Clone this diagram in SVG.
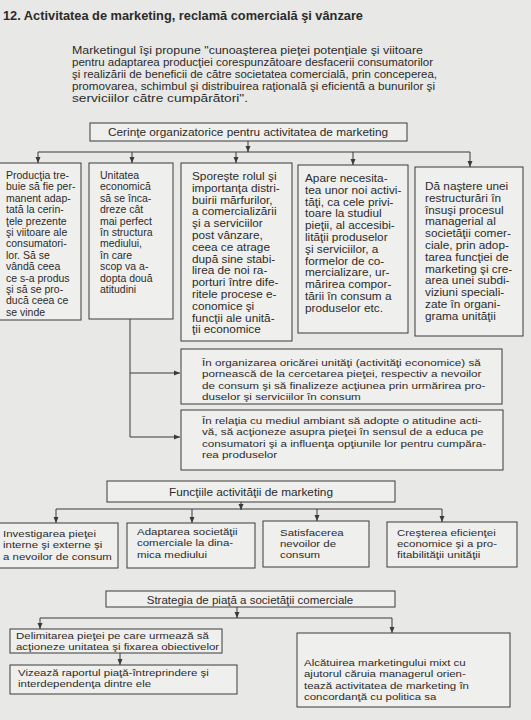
<svg xmlns="http://www.w3.org/2000/svg" width="531" height="720" viewBox="0 0 531 720">
<defs>
<style>
text{font-family:"Liberation Sans",Arial,sans-serif;fill:#2b2b2b}
.t{font-size:11.8px}
.s{font-size:10px}
.m{font-size:10.3px}
.w{font-size:9.9px}
.b{font-size:9.8px}
.p{font-size:10.4px}
.h{font-size:13px;font-weight:bold}
rect{fill:#efefed;stroke:#3a3a3a;stroke-width:1}
.c line,.c path{stroke:#3a3a3a;stroke-width:1;fill:none}
</style>
<marker id="ah" markerWidth="6" markerHeight="6" refX="6" refY="3" orient="auto" markerUnits="userSpaceOnUse"><path d="M0,0.5 L6,3 L0,5.5 z" fill="#3a3a3a"/></marker>
</defs>
<rect x="0" y="0" width="531" height="720" style="fill:#e8e8e6;stroke:none"/>
<text class="h" x="3" y="20" textLength="360" lengthAdjust="spacingAndGlyphs">12. Activitatea de marketing, reclamă comercială şi vânzare</text>
<g id="intro">
<text class="p" x="72" y="54" textLength="351" lengthAdjust="spacingAndGlyphs">Marketingul îşi propune "cunoaşterea pieţei potenţiale şi viitoare</text>
<text class="p" x="72" y="66" textLength="361" lengthAdjust="spacingAndGlyphs">pentru adaptarea producţiei corespunzătoare desfacerii consumatorilor</text>
<text class="p" x="72" y="78" textLength="365" lengthAdjust="spacingAndGlyphs">şi realizării de beneficii de către societatea comercială, prin conceperea,</text>
<text class="p" x="72" y="90" textLength="363" lengthAdjust="spacingAndGlyphs">promovarea, schimbul şi distribuirea raţională şi eficientă a bunurilor şi</text>
<text class="p" x="72" y="102" textLength="176" lengthAdjust="spacingAndGlyphs">serviciilor către cumpărători".</text>
</g>
<g class="c" id="connectors">
<line x1="248" y1="141" x2="248" y2="152" marker-end="url(#ah)"/>
<line x1="38" y1="152" x2="470" y2="152"/>
<line x1="38" y1="152" x2="38" y2="163" marker-end="url(#ah)"/>
<line x1="132" y1="152" x2="132" y2="163" marker-end="url(#ah)"/>
<line x1="236" y1="152" x2="236" y2="163" marker-end="url(#ah)"/>
<line x1="353" y1="152" x2="353" y2="165" marker-end="url(#ah)"/>
<line x1="470" y1="152" x2="470" y2="167" marker-end="url(#ah)"/>
<path d="M130,319 V437 H180" marker-end="url(#ah)"/>
<path d="M130,373 H180" marker-end="url(#ah)"/>
<line x1="241" y1="502" x2="241" y2="510" marker-end="url(#ah)"/>
<line x1="56" y1="509" x2="442" y2="509"/>
<line x1="56" y1="509" x2="56" y2="523" marker-end="url(#ah)"/>
<line x1="192" y1="509" x2="192" y2="523" marker-end="url(#ah)"/>
<line x1="317" y1="509" x2="317" y2="521" marker-end="url(#ah)"/>
<line x1="442" y1="509" x2="442" y2="522" marker-end="url(#ah)"/>
<line x1="237" y1="607" x2="237" y2="618" marker-end="url(#ah)"/>
<line x1="40" y1="618" x2="392" y2="618"/>
<line x1="40" y1="618" x2="40" y2="629" marker-end="url(#ah)"/>
<line x1="392" y1="618" x2="392" y2="633" marker-end="url(#ah)"/>
<line x1="120" y1="653" x2="120" y2="665" marker-end="url(#ah)"/>
</g>
<g id="cerinte">
<rect x="90" y="123" width="317" height="18"/>
<text class="t" x="248" y="136" text-anchor="middle">Cerinţe organizatorice pentru activitatea de marketing</text>
</g>
<g id="box1">
<rect x="-1" y="163" width="82" height="157"/>
<text class="s" transform="translate(6 0) scale(1.05 1)" y="179"><tspan x="0">Producţia tre-</tspan><tspan x="0" dy="11.4">buie să fie per-</tspan><tspan x="0" dy="11.4">manent adap-</tspan><tspan x="0" dy="11.4">tată la cerin-</tspan><tspan x="0" dy="11.4">ţele prezente</tspan><tspan x="0" dy="11.4">şi viitoare ale</tspan><tspan x="0" dy="11.4">consumatori-</tspan><tspan x="0" dy="11.4">lor. Să se</tspan><tspan x="0" dy="11.4">vândă ceea</tspan><tspan x="0" dy="11.4">ce s-a produs</tspan><tspan x="0" dy="11.4">şi să se pro-</tspan><tspan x="0" dy="11.4">ducă ceea ce</tspan><tspan x="0" dy="11.4">se vinde</tspan></text>
</g>
<g id="box2">
<rect x="89" y="163" width="84" height="156"/>
<text class="s" transform="translate(100 0) scale(1.05 1)" y="179"><tspan x="0">Unitatea</tspan><tspan x="0" dy="11.4">economică</tspan><tspan x="0" dy="11.4">să se înca-</tspan><tspan x="0" dy="11.4">dreze cât</tspan><tspan x="0" dy="11.4">mai perfect</tspan><tspan x="0" dy="11.4">în structura</tspan><tspan x="0" dy="11.4">mediului,</tspan><tspan x="0" dy="11.4">în care</tspan><tspan x="0" dy="11.4">scop va a-</tspan><tspan x="0" dy="11.4">dopta două</tspan><tspan x="0" dy="11.4">atitudini</tspan></text>
</g>
<g id="box3">
<rect x="181" y="163" width="111" height="178"/>
<text class="m" transform="translate(192 0) scale(1.146 1)" y="180"><tspan x="0">Sporeşte rolul şi</tspan><tspan x="0" dy="11.8">importanţa distri-</tspan><tspan x="0" dy="11.8">buirii mărfurilor,</tspan><tspan x="0" dy="11.8">a comercializării</tspan><tspan x="0" dy="11.8">şi a serviciilor</tspan><tspan x="0" dy="11.8">post vânzare,</tspan><tspan x="0" dy="11.8">ceea ce atrage</tspan><tspan x="0" dy="11.8">după sine stabi-</tspan><tspan x="0" dy="11.8">lirea de noi ra-</tspan><tspan x="0" dy="11.8">porturi între dife-</tspan><tspan x="0" dy="11.8">ritele procese e-</tspan><tspan x="0" dy="11.8">conomice şi</tspan><tspan x="0" dy="11.8">funcţii ale unită-</tspan><tspan x="0" dy="11.8">ţii economice</tspan></text>
</g>
<g id="box4">
<rect x="298" y="165" width="110" height="168"/>
<text class="m" transform="translate(305 0) scale(1.146 1)" y="182"><tspan x="0">Apare necesita-</tspan><tspan x="0" dy="11.8">tea unor noi activi-</tspan><tspan x="0" dy="11.8">tăţi, ca cele privi-</tspan><tspan x="0" dy="11.8">toare la studiul</tspan><tspan x="0" dy="11.8">pieţii, al accesibi-</tspan><tspan x="0" dy="11.8">lităţii produselor</tspan><tspan x="0" dy="11.8">şi serviciilor, a</tspan><tspan x="0" dy="11.8">formelor de co-</tspan><tspan x="0" dy="11.8">mercializare, ur-</tspan><tspan x="0" dy="11.8">mărirea compor-</tspan><tspan x="0" dy="11.8">tării în consum a</tspan><tspan x="0" dy="11.8">produselor etc.</tspan></text>
</g>
<g id="box5">
<rect x="415" y="167" width="108" height="169"/>
<text class="m" transform="translate(425 0) scale(1.146 1)" y="190"><tspan x="0">Dă naştere unei</tspan><tspan x="0" dy="11.8">restructurări în</tspan><tspan x="0" dy="11.8">însuşi procesul</tspan><tspan x="0" dy="11.8">managerial al</tspan><tspan x="0" dy="11.8">societăţii comer-</tspan><tspan x="0" dy="11.8">ciale, prin adop-</tspan><tspan x="0" dy="11.8">tarea funcţiei de</tspan><tspan x="0" dy="11.8">marketing şi cre-</tspan><tspan x="0" dy="11.8">area unei subdi-</tspan><tspan x="0" dy="11.8">viziuni speciali-</tspan><tspan x="0" dy="11.8">zate în organi-</tspan><tspan x="0" dy="11.8">grama unităţii</tspan></text>
</g>
<g id="boxA">
<rect x="181" y="349" width="321" height="55"/>
<text class="w" transform="translate(202 0) scale(1.18 1)" y="366"><tspan x="0">În organizarea oricărei unităţi (activităţi economice) să</tspan><tspan x="0" dy="11.5">pornească de la cercetarea pieţei, respectiv a nevoilor</tspan><tspan x="0" dy="11.5">de consum şi să finalizeze acţiunea prin urmărirea pro-</tspan><tspan x="0" dy="11.5">duselor şi serviciilor în consum</tspan></text>
</g>
<g id="boxB">
<rect x="181" y="410" width="322" height="60"/>
<text class="w" transform="translate(202 0) scale(1.18 1)" y="424"><tspan x="0">În relaţia cu mediul ambiant să adopte o atitudine acti-</tspan><tspan x="0" dy="11.4">vă, să acţioneze asupra pieţei în sensul de a educa pe</tspan><tspan x="0" dy="11.4">consumatori şi a influenţa opţiunile lor pentru cumpăra-</tspan><tspan x="0" dy="11.4">rea produselor</tspan></text>
</g>
<g id="functii">
<rect x="107" y="481" width="288" height="21"/>
<text class="t" x="251" y="496" text-anchor="middle">Funcţiile activităţii de marketing</text>
</g>
<g id="f1">
<rect x="-1" y="523" width="119" height="45"/>
<text class="b" transform="translate(3 0) scale(1.17 1)" y="537"><tspan x="0">Investigarea pieţei</tspan><tspan x="0" dy="11.3">interne şi externe şi</tspan><tspan x="0" dy="11.3">a nevoilor de consum</tspan></text>
</g>
<g id="f2">
<rect x="127" y="523" width="128" height="45"/>
<text class="b" transform="translate(137 0) scale(1.17 1)" y="535"><tspan x="0">Adaptarea societăţii</tspan><tspan x="0" dy="11.3">comerciale la dina-</tspan><tspan x="0" dy="11.3">mica mediului</tspan></text>
</g>
<g id="f3">
<rect x="263" y="521" width="106" height="46"/>
<text class="b" transform="translate(280 0) scale(1.17 1)" y="536"><tspan x="0">Satisfacerea</tspan><tspan x="0" dy="11.2">nevoilor de</tspan><tspan x="0" dy="11.2">consum</tspan></text>
</g>
<g id="f4">
<rect x="387" y="522" width="130" height="45"/>
<text class="b" transform="translate(397 0) scale(1.17 1)" y="536"><tspan x="0">Creşterea eficienţei</tspan><tspan x="0" dy="11.2">economice şi a pro-</tspan><tspan x="0" dy="11.2">fitabilităţii unităţii</tspan></text>
</g>
<g id="strategia">
<rect x="106" y="591" width="289" height="16"/>
<text class="t" x="250" y="603.5" text-anchor="middle" style="font-size:11.5px">Strategia de piaţă a societăţii comerciale</text>
</g>
<g id="delimitarea">
<rect x="10" y="629" width="212" height="24"/>
<text class="b" transform="translate(16 0) scale(1.17 1)" y="639"><tspan x="0">Delimitarea pieţei pe care urmează să</tspan><tspan x="0" dy="11.2">acţioneze unitatea şi fixarea obiectivelor</tspan></text>
</g>
<g id="vizeaza">
<rect x="10" y="665" width="227" height="29"/>
<text class="b" transform="translate(18 0) scale(1.17 1)" y="676"><tspan x="0">Vizează raportul piaţă-întreprindere şi</tspan><tspan x="0" dy="11.3">interdependenţa dintre ele</tspan></text>
</g>
<g id="alcatuirea">
<rect x="297" y="633" width="213" height="74"/>
<text class="b" transform="translate(304 0) scale(1.17 1)" y="666"><tspan x="0">Alcătuirea marketingului mixt cu</tspan><tspan x="0" dy="11.3">ajutorul căruia managerul orien-</tspan><tspan x="0" dy="11.3">tează activitatea de marketing în</tspan><tspan x="0" dy="11.3">concordanţă cu politica sa</tspan></text>
</g>
</svg>
